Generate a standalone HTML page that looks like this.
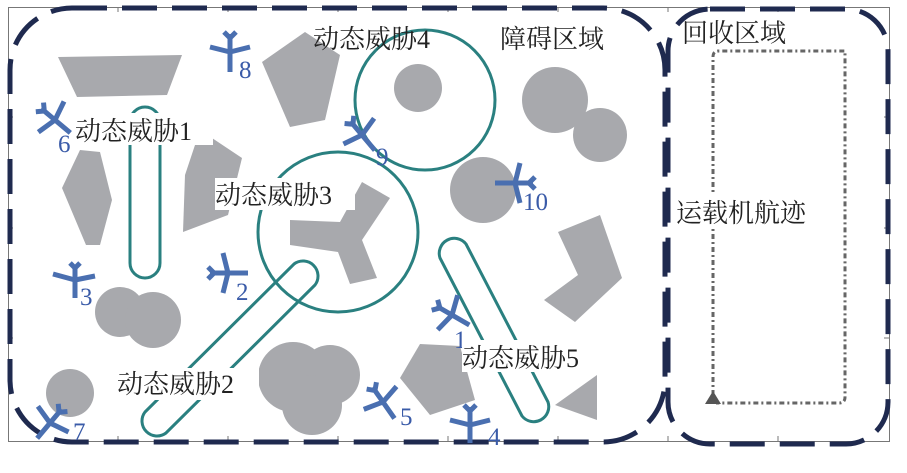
<!DOCTYPE html><html><head><meta charset="utf-8"><style>body{margin:0;background:#fff}svg{display:block}text{font-family:"Liberation Serif","Noto Serif CJK SC",serif}</style></head><body>
<svg width="907" height="473" viewBox="0 0 907 473" xmlns="http://www.w3.org/2000/svg">
<path d="M8.5 7.5H889.5V441.5H8.5Z" fill="none" stroke="#777" stroke-width="1"/>
<g stroke="#777" stroke-width="1">
<path d="M118 7v5M228 7v5M338 7v5M448 7v5M558 7v5M668 7v5M778 7v5"/>
<path d="M118 441v-5M228 441v-5M338 441v-5M448 441v-5M558 441v-5M668 441v-5M778 441v-5"/>
<path d="M8 117h5M8 228h5M8 338h5M889 117h-5M889 228h-5M889 338h-5"/>
</g>
<g fill="#a8a9ad">
<polygon points="58,57 182,55 167,95 77,97"/>
<polygon points="262,62 305,32 340,55 325,120 290,127"/>
<polygon points="80,150 100,152 112,200 100,245 86,245 62,188"/>
<polygon points="200,130 242,158 228,215 183,232 185,175"/>
<polygon points="290,220 340,222 362,182 390,198 362,240 377,278 350,284 338,252 290,245"/>
<circle cx="418" cy="88" r="24"/>
<circle cx="555" cy="100" r="33"/><circle cx="600" cy="135" r="27"/>
<circle cx="483" cy="190" r="33"/>
<polygon points="558,232 600,215 622,278 575,322 544,300 578,275"/>
<circle cx="120" cy="312" r="25"/><circle cx="153" cy="320" r="28"/>
<circle cx="70" cy="393" r="24"/>
<circle cx="293" cy="377" r="35"/><circle cx="330" cy="375" r="30"/><circle cx="312" cy="405" r="30"/>
<polygon points="400,378 420,344 460,346 475,400 430,415"/>
<polygon points="555,405 597,375 597,420"/>
</g>
<g fill="none" stroke="#2a8080" stroke-width="3">
<circle cx="425" cy="100" r="70"/>
<circle cx="338" cy="232" r="80"/>
<path d="M130 122a15 15 0 0 1 30 0V263a15 15 0 0 1 -30 0Z"/>
<path d="M294 264a15 15 0 0 1 21 21L166 433a15 15 0 0 1 -21 -21Z"/>
<path d="M440 258a15 15 0 0 1 26 -14L548 402a15 15 0 0 1 -26 14Z"/>
</g>
<g fill="none" stroke="#1f2a4f" stroke-width="5" stroke-dasharray="35 15">
<rect x="10" y="8" width="655" height="434" rx="62"/>
<rect x="668" y="9" width="220" height="435" rx="42"/>
</g>
<g fill="none" stroke="#666" stroke-width="3" stroke-dasharray="5 3 2 3">
<path d="M713 395V57q0-6 6-6H845V397q0 6-6 6H716"/>
</g>
<polygon points="705,404 713,391 721,404" fill="#555"/>
<g stroke="#4a6fb0" stroke-width="5" fill="none" stroke-linecap="butt">
<g transform="translate(230,52)"><path d="M0 0V20M0 0L-20-5M0 0L20-5M0-0V-18M-6-20L0-14L6-20"/></g>
<g transform="translate(55,120) rotate(-50)"><path d="M0 0V20M0 0L-20-5M0 0L20-5M0 0V-18M-6-20L0-14L6-20"/></g>
<g transform="translate(362,135) rotate(-40)"><path d="M0 0V20M0 0L-20-5M0 0L20-5M0 0V-18M-6-20L0-14L6-20"/></g>
<g transform="translate(515,183) rotate(90)"><path d="M0 0V20M0 0L-20-5M0 0L20-5M0 0V-18M-6-20L0-14L6-20"/></g>
<g transform="translate(75,280)"><path d="M0 0V18M0 0L-22-6M0 0L20-4M0 0V-15M-5-17L0-12L5-17"/></g>
<g transform="translate(228,273) rotate(-90)"><path d="M0 0V20M0 0L-20-5M0 0L20-5M0 0V-18M-6-20L0-14L6-20"/></g>
<g transform="translate(452,315) rotate(-60)"><path d="M0 0V20M0 0L-20-5M0 0L20-5M0 0V-18M-6-20L0-14L6-20"/></g>
<g transform="translate(50,423) rotate(40)"><path d="M0 0V20M0 0L-20-5M0 0L20-5M0 0V-18M-6-20L0-14L6-20"/></g>
<g transform="translate(383,402) rotate(-35)"><path d="M0 0V20M0 0L-20-5M0 0L20-5M0 0V-18M-6-20L0-14L6-20"/></g>
<g transform="translate(470,425)"><path d="M0 0V18M0 0L-20-5M0 0L20-5M0 0V-18M-6-20L0-14L6-20"/></g>
</g>
<g fill="#3a5ba8" font-size="25">
<text x="239" y="78">8</text><text x="58" y="152">6</text><text x="376" y="165">9</text>
<text x="523" y="210">10</text><text x="80" y="305">3</text><text x="236" y="300">2</text>
<text x="454" y="348">1</text><text x="73" y="440">7</text><text x="400" y="425">5</text><text x="488" y="445">4</text>
</g>
<g fill="#222" font-size="26">
<text x="313" y="48">动态威胁4</text>
<text x="500" y="48">障碍区域</text>
<text x="682" y="42">回收区域</text>
<rect x="75" y="113" width="138" height="32" fill="#fff"/>
<text x="75" y="140">动态威胁1</text>
<rect x="215" y="178" width="140" height="32" fill="#fff"/>
<text x="215" y="204">动态威胁3</text>
<rect x="676" y="195" width="158" height="32" fill="#fff"/>
<text x="676" y="222">运载机航迹</text>
<rect x="462" y="340" width="142" height="32" fill="#fff"/>
<text x="462" y="367">动态威胁5</text>
<rect x="117" y="368" width="142" height="32" fill="#fff"/>
<text x="117" y="393">动态威胁2</text>
</g>
</svg>
</body></html>
